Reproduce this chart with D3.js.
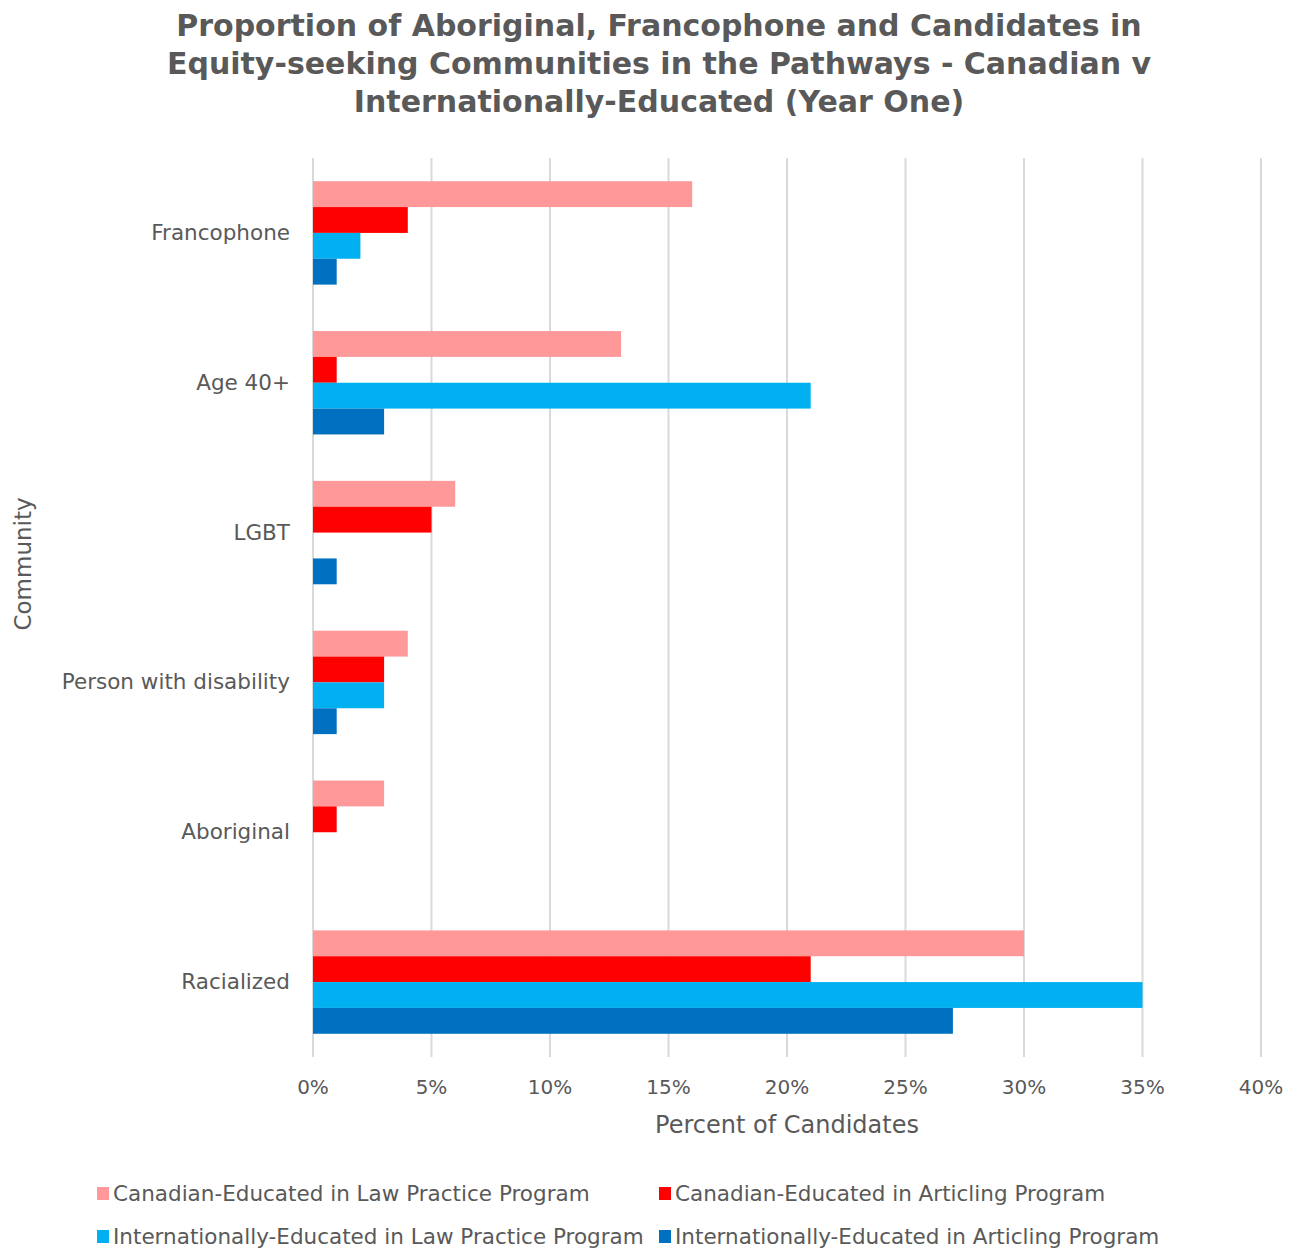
<!DOCTYPE html>
<html>
<head>
<meta charset="utf-8">
<script src="https://cdn.jsdelivr.net/npm/d3@7"></script>
<style>
  body { margin: 0; background: #fff; }
  text { font-family: "DejaVu Sans", sans-serif; fill: #595959; }
</style>
</head>
<body>
<svg id="chart"></svg>
<script>
const categories = ['Francophone', 'Age 40+', 'LGBT', 'Person with disability', 'Aboriginal', 'Racialized'];
const seriesNames = [
  'Canadian-Educated in Law Practice Program',
  'Canadian-Educated in Articling Program',
  'Internationally-Educated in Law Practice Program',
  'Internationally-Educated in Articling Program'
];
const canLPP = [16, 13, 6, 4, 3, 30];
const canArt = [4, 1, 5, 3, 1, 21];
const intLPP = [2, 21, 0, 3, 0, 35];
const intArt = [1, 3, 1, 1, 0, 27];
const xTicks = [0, 5, 10, 15, 20, 25, 30, 35, 40];
const colors = ['#FF9999', '#FF0000', '#00B0F0', '#0070C0'];

const allSeries = [canLPP, canArt, intLPP, intArt];

const width = 1297, height = 1251;
const margin = { top: 158, left: 313, right: 36, bottom: 194 };

const svg = d3.select('#chart').attr('width', width).attr('height', height);

// title
const title = ['Proportion of Aboriginal, Francophone and Candidates in',
  'Equity-seeking Communities in the Pathways - Canadian v',
  'Internationally-Educated (Year One)'];
svg.append('g').selectAll('text')
  .data(title)
  .enter()
  .append('text')
  .attr('x', 659)
  .attr('y', (d, i) => 36 + i * 38)
  .attr('text-anchor', 'middle')
  .style('font-size', '30px')
  .style('font-weight', 'bold')
  .text(d => d);

let xScale = d3.scaleLinear()
  .domain([0, 40])
  .range([margin.left, width - margin.right]);

let yScale = d3.scaleBand()
  .domain(categories)
  .range([margin.top, height - margin.bottom])
  .paddingInner(0.31)
  .paddingOuter(0.155);

let subScale = d3.scaleBand()
  .domain(d3.range(seriesNames.length))
  .range([0, yScale.bandwidth()]);

// gridlines
svg.append('g').selectAll('line')
  .data(xTicks)
  .enter()
  .append('line')
  .attr('x1', d => xScale(d))
  .attr('x2', d => xScale(d))
  .attr('y1', margin.top)
  .attr('y2', height - margin.bottom)
  .attr('stroke', '#d9d9d9')
  .attr('stroke-width', 2);

// bars
let groups = svg.selectAll('.cat')
  .data(categories)
  .enter()
  .append('g')
  .attr('class', 'cat')
  .attr('transform', d => `translate(0, ${yScale(d)})`);

groups.selectAll('rect')
  .data((d, ci) => allSeries.map((s, si) => ({ si: si, v: s[ci] })))
  .enter()
  .append('rect')
  .attr('x', xScale(0))
  .attr('y', d => subScale(d.si))
  .attr('width', d => xScale(d.v) - xScale(0))
  .attr('height', subScale.bandwidth())
  .attr('fill', d => colors[d.si]);

// y labels
svg.append('g').selectAll('text')
  .data(categories)
  .enter()
  .append('text')
  .attr('x', 290)
  .attr('y', d => yScale(d) + yScale.bandwidth() / 2 + 7)
  .attr('text-anchor', 'end')
  .style('font-size', '21.5px')
  .text(d => d);

// x tick labels
svg.append('g').selectAll('text')
  .data(xTicks)
  .enter()
  .append('text')
  .attr('x', d => xScale(d))
  .attr('y', 1094)
  .attr('text-anchor', 'middle')
  .style('font-size', '20px')
  .text(d => d + '%');

svg.append('text')
  .attr('x', xScale(20))
  .attr('y', 1133)
  .attr('text-anchor', 'middle')
  .style('font-size', '24px')
  .text('Percent of Candidates');

svg.append('text')
  .attr('transform', 'translate(31, 564) rotate(-90)')
  .attr('text-anchor', 'middle')
  .style('font-size', '23px')
  .text('Community');

// legend
let legendPos = [[97, 1194], [659, 1194], [97, 1237], [659, 1237]];
let legend = svg.selectAll('.legend')
  .data(seriesNames)
  .enter()
  .append('g')
  .attr('class', 'legend')
  .attr('transform', (d, i) => `translate(${legendPos[i][0]}, ${legendPos[i][1]})`);

legend.append('rect')
  .attr('x', 0)
  .attr('y', -7)
  .attr('width', 12)
  .attr('height', 13)
  .attr('fill', (d, i) => colors[i]);

legend.append('text')
  .attr('x', 16)
  .attr('y', 7)
  .style('font-size', '21.5px')
  .text(d => d);
</script>
</body>
</html>
